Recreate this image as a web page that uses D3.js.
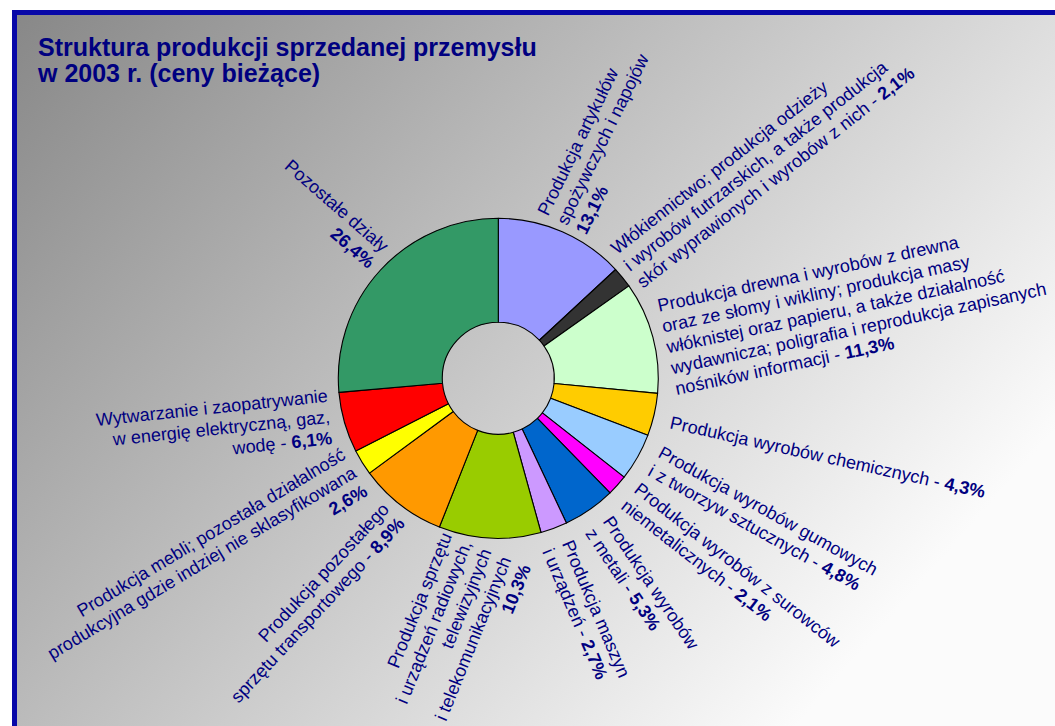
<!DOCTYPE html>
<html><head><meta charset="utf-8">
<script src="https://cdn.jsdelivr.net/npm/d3@7"></script>
<style>
html,body{margin:0;padding:0;background:#fff;}
svg{display:block;font-family:"Liberation Sans",Arial,sans-serif;}
</style>
</head><body>
<svg id="chart" width="1055" height="726"></svg>
<script>
// ---- data ----
const titleLines = ["Struktura produkcji sprzedanej przemysłu", "w 2003 r. (ceny bieżące)"];
const categories = [
  "Produkcja artykułów spożywczych i napojów",
  "Włókiennictwo; produkcja odzieży i wyrobów futrzarskich, a także produkcja skór wyprawionych i wyrobów z nich",
  "Produkcja drewna i wyrobów z drewna oraz ze słomy i wikliny; produkcja masy włóknistej oraz papieru, a także działalność wydawnicza; poligrafia i reprodukcja zapisanych nośników informacji",
  "Produkcja wyrobów chemicznych",
  "Produkcja wyrobów gumowych i z tworzyw sztucznych",
  "Produkcja wyrobów z surowców niemetalicznych",
  "Produkcja wyrobów z metali",
  "Produkcja maszyn i urządzeń",
  "Produkcja sprzętu i urządzeń radiowych, telewizyjnych i telekomunikacyjnych",
  "Produkcja pozostałego sprzętu transportowego",
  "Produkcja mebli; pozostała działalność produkcyjna gdzie indziej nie sklasyfikowana",
  "Wytwarzanie i zaopatrywanie w energię elektryczną, gaz, wodę",
  "Pozostałe działy"
];
const values = [13.1, 2.1, 11.3, 4.3, 4.8, 2.1, 5.3, 2.7, 10.3, 8.9, 2.6, 6.1, 26.4];
const labelLines = [
  ["Produkcja artykułów", "spożywczych i napojów", "{v}"],
  ["Włókiennictwo; produkcja odzieży", "i wyrobów futrzarskich, a także produkcja", "skór wyprawionych i wyrobów z nich - {v}"],
  ["Produkcja drewna i wyrobów z drewna", "oraz ze słomy i wikliny; produkcja masy", "włóknistej oraz papieru, a także działalność", "wydawnicza; poligrafia i reprodukcja zapisanych", "nośników informacji - {v}"],
  ["Produkcja wyrobów chemicznych - {v}"],
  ["Produkcja wyrobów gumowych", "i z tworzyw sztucznych - {v}"],
  ["Produkcja wyrobów z surowców", "niemetalicznych - {v}"],
  ["Produkcja wyrobów", "z metali - {v}"],
  ["Produkcja maszyn", "i urządzeń - {v}"],
  ["Produkcja sprzętu", "i urządzeń radiowych,", "telewizyjnych", "i telekomunikacyjnych", "{v}"],
  ["Produkcja pozostałego", "sprzętu transportowego - {v}"],
  ["Produkcja mebli; pozostała działalność", "produkcyjna gdzie indziej nie sklasyfikowana", "{v}"],
  ["Wytwarzanie i zaopatrywanie", "w energię elektryczną, gaz,", "wodę - {v}"],
  ["Pozostałe działy", "{v}"]
];

// ---- styles / layout ----
const colors = ["#9999ff","#333333","#ccffcc","#ffcc00","#99ccff","#ff00ff","#0066cc","#cc99ff","#99cc00","#ff9900","#ffff00","#ff0000","#339966"];
// label anchors in polar coords around the pie centre (deg clockwise from top, radius px), text rotation
const labelLayout = [
  {ang:17.1, rad:169, rot:-64, anchor:"start"},
  {ang:43.9, rad:171, rot:-38, anchor:"start"},
  {ang:67.5, rad:174, rot:-12, anchor:"start"},
  {ang:106.3, rad:178, rot:12.5, anchor:"start"},
  {ang:116.2, rad:177, rot:29, anchor:"start"},
  {ang:130, rad:176, rot:38, anchor:"start"},
  {ang:144, rad:177, rot:56, anchor:"start"},
  {ang:159, rad:177, rot:67, anchor:"start"},
  {ang:196.3, rad:164, rot:-68, anchor:"end"},
  {ang:219.4, rad:170.5, rot:-47, anchor:"end"},
  {ang:242.2, rad:171.4, rot:-31, anchor:"end"},
  {ang:262.2, rad:171.6, rot:-6, anchor:"end"},
  {ang:317, rad:171, rot:41, anchor:"end"}
];
const W = 1055, H = 726;
const cx = 498.3, cy = 378.3, rOuter = 160, rInner = 56;
const textColor = "#000080";
const labelSize = 18, lineH = 21.3;

const svg = d3.select("#chart");
const defs = svg.append("defs");
const grad = defs.append("linearGradient").attr("id","bg")
  .attr("gradientUnits","userSpaceOnUse")
  .attr("x1",17).attr("y1",15).attr("x2",811).attr("y2",709);
grad.append("stop").attr("offset",0).attr("stop-color","#888888");
grad.append("stop").attr("offset",1).attr("stop-color","#fbfbfb");

svg.append("rect").attr("x",0).attr("y",0).attr("width",W).attr("height",H).attr("fill","#ffffff");
svg.append("rect").attr("x",17).attr("y",15).attr("width",W-17).attr("height",H-15).attr("fill","url(#bg)");
// frame (top and left edges visible)
svg.append("rect").attr("x",12).attr("y",10).attr("width",W-12).attr("height",5).attr("fill","#0808a8");
svg.append("rect").attr("x",12).attr("y",10).attr("width",5).attr("height",H-10).attr("fill","#0808a8");

// title
const title = svg.append("text").attr("x",38).attr("y",56)
  .attr("fill",textColor).attr("font-size",25).attr("font-weight","bold");
titleLines.forEach((t,i)=>{
  title.append("tspan").attr("x",38).attr("dy", i===0?0:26).text(t);
});

// pie
const pie = d3.pie().sort(null).value(d=>d);
const arcs = pie(values);
const arc = d3.arc().innerRadius(rInner).outerRadius(rOuter);
const g = svg.append("g").attr("transform",`translate(${cx},${cy})`);
g.selectAll("path").data(arcs).join("path")
  .attr("d",arc)
  .attr("fill",(d,i)=>colors[i])
  .attr("stroke","#000").attr("stroke-width",1.1).attr("stroke-linejoin","round");

// labels
const fmt = v => v.toFixed(1).replace(".", ",") + "%";
labelLayout.forEach((L,i)=>{
  const a = L.ang*Math.PI/180;
  const x = cx + L.rad*Math.sin(a), y = cy - L.rad*Math.cos(a);
  const t = svg.append("text")
    .attr("transform",`translate(${x.toFixed(1)},${y.toFixed(1)}) rotate(${L.rot})`)
    .attr("text-anchor",L.anchor)
    .attr("fill",textColor).attr("font-size",labelSize);
  labelLines[i].forEach((line,j)=>{
    const parts = line.split("{v}");
    const dy = j===0?0:lineH;
    if (parts[0] !== "") {
      t.append("tspan").attr("x",0).attr("dy",dy).text(parts[0]);
      if (parts.length>1) t.append("tspan").attr("font-weight","bold").text(fmt(values[i]));
    } else {
      t.append("tspan").attr("x",0).attr("dy",dy).attr("font-weight","bold").text(fmt(values[i]));
    }
  });
});
</script>
</body></html>
